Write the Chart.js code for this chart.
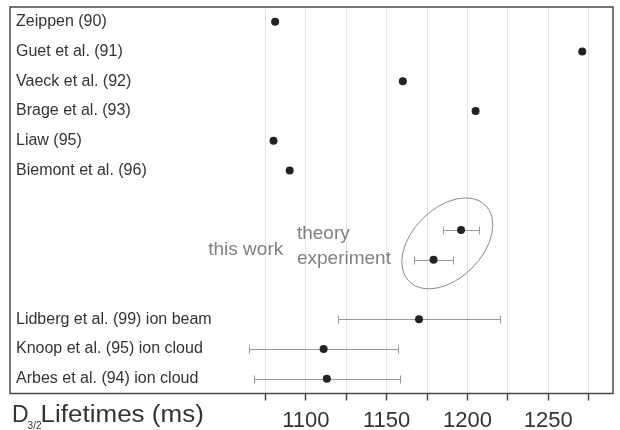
<!DOCTYPE html>
<html>
<head>
<meta charset="utf-8">
<script src="https://cdn.jsdelivr.net/npm/chart.js@4.4.1/dist/chart.umd.min.js"></script>
<style>
  html, body { margin: 0; padding: 0; background: #fff; }
</style>
</head>
<body>
<canvas id="chart" width="620" height="430"></canvas>
<script>
const ROW_LABELS = ['Zeippen (90)', 'Guet et al. (91)', 'Vaeck et al. (92)', 'Brage et al. (93)',
                    'Liaw (95)', 'Biemont et al. (96)', '', '', '', '',
                    'Lidberg et al. (99) ion beam', 'Knoop et al. (95) ion cloud', 'Arbes et al. (94) ion cloud'];
const POINT_ROWS = [0, 1, 2, 3, 4, 5, 7, 8, 10, 11, 12];
const LIFETIMES  = [1081, 1271, 1160, 1205, 1080, 1090, 1196, 1179, 1170, 1111, 1113];
const ERRORS     = [0, 0, 0, 0, 0, 0, 11, 12, 50, 46, 45];
const X_TICKS    = [1075, 1100, 1125, 1150, 1175, 1200, 1225, 1250, 1275];
const X_LABELED  = [1100, 1150, 1200, 1250];

const FONT_FAMILY = '"Liberation Sans", Arial, Helvetica, sans-serif';
const textColor   = '#333';
const noteColor   = '#808080';
const gridColor   = '#e4e4e4';
const frameColor  = '#4a4a4a';

const extras = {
  id: 'extras',
  beforeDatasetsDraw(chart) {
    const { ctx, scales: { x, y } } = chart;
    ctx.save();

    // error bars
    ctx.strokeStyle = '#999';
    ctx.lineWidth = 1;
    LIFETIMES.forEach((v, i) => {
      const e = ERRORS[i];
      if (!e) return;
      const py = Math.round(y.getPixelForValue(POINT_ROWS[i])) + 0.5;
      const x1 = Math.round(x.getPixelForValue(v - e)) + 0.5;
      const x2 = Math.round(x.getPixelForValue(v + e)) + 0.5;
      ctx.beginPath();
      ctx.moveTo(x1, py); ctx.lineTo(x2, py);
      ctx.moveTo(x1, py - 4); ctx.lineTo(x1, py + 4);
      ctx.moveTo(x2, py - 4); ctx.lineTo(x2, py + 4);
      ctx.stroke();
    });

    // ellipse round "this work"
    ctx.strokeStyle = '#888';
    ctx.beginPath();
    ctx.ellipse(x.getPixelForValue(1187.5), y.getPixelForValue(7.45), 54, 35, -Math.PI / 4, 0, Math.PI * 2);
    ctx.stroke();

    // notes
    ctx.fillStyle = noteColor;
    ctx.font = '19px ' + FONT_FAMILY;
    ctx.textBaseline = 'alphabetic';
    ctx.textAlign = 'right';
    ctx.fillText('this work', x.getPixelForValue(1086), y.getPixelForValue(7.85));
    ctx.textAlign = 'left';
    ctx.fillText('theory', x.getPixelForValue(1094.5), y.getPixelForValue(7.3));
    ctx.fillText('experiment', x.getPixelForValue(1094.5), y.getPixelForValue(8.15));
    ctx.restore();
  },
  afterDraw(chart) {
    const { ctx, chartArea: a } = chart;
    ctx.save();
    ctx.strokeStyle = frameColor;
    ctx.lineWidth = 1.5;
    ctx.strokeRect(a.left, a.top, a.right - a.left, a.bottom - a.top);

    // axis title with subscript
    ctx.fillStyle = textColor;
    ctx.textBaseline = 'alphabetic';
    ctx.textAlign = 'left';
    let tx = 12;
    const base = 422;
    ctx.font = '23px ' + FONT_FAMILY;
    ctx.fillText('D', tx, base);
    tx += ctx.measureText('D').width;
    ctx.font = '10px ' + FONT_FAMILY;
    ctx.fillText('3/2', tx - 1, base + 7);
    tx += 12;
    ctx.font = '23px ' + FONT_FAMILY;
    ctx.translate(tx, base);
    ctx.scale(1.13, 1);
    ctx.fillText('Lifetimes (ms)', 0, 0);
    ctx.restore();
  }
};

new Chart(document.getElementById('chart'), {
  type: 'scatter',
  data: {
    datasets: [{
      data: LIFETIMES.map((v, i) => ({ x: v, y: POINT_ROWS[i] })),
      pointRadius: 4,
      pointHoverRadius: 4,
      backgroundColor: '#222',
      borderWidth: 0,
    }],
  },
  options: {
    responsive: false,
    animation: false,
    devicePixelRatio: 1,
    layout: { padding: { left: 10, right: 7, top: 7, bottom: 0 } },
    plugins: { legend: { display: false }, tooltip: { enabled: false } },
    events: [],
    scales: {
      x: {
        type: 'linear',
        min: 917,
        max: 1290,
        afterBuildTicks: s => { s.ticks = X_TICKS.map(v => ({ value: v })); },
        afterFit: s => { s.height = 36.5; s.paddingLeft = 0; s.paddingRight = 0; },
        border: { display: false },
        grid: { color: gridColor, tickColor: frameColor, tickLength: 7, tickWidth: 1.5 },
        ticks: {
          autoSkip: false,
          maxRotation: 0,
          padding: 8,
          color: textColor,
          font: { family: FONT_FAMILY, size: 22, lineHeight: 1.1 },
          callback: v => X_LABELED.includes(v) ? String(v) : '',
        },
      },
      y: {
        type: 'linear',
        reverse: true,
        min: -0.5,
        max: 12.5,
        afterBuildTicks: s => { s.ticks = ROW_LABELS.map((_, i) => ({ value: i })); },
        afterFit: s => { s.width = 0; s.paddingTop = 0; s.paddingBottom = 0; },
        border: { display: false },
        grid: { display: false, drawTicks: false },
        ticks: {
          mirror: true,
          autoSkip: false,
          padding: 6,
          color: textColor,
          font: { family: FONT_FAMILY, size: 16 },
          callback: v => ROW_LABELS[v],
        },
      },
    },
  },
  plugins: [extras],
});
</script>
</body>
</html>
